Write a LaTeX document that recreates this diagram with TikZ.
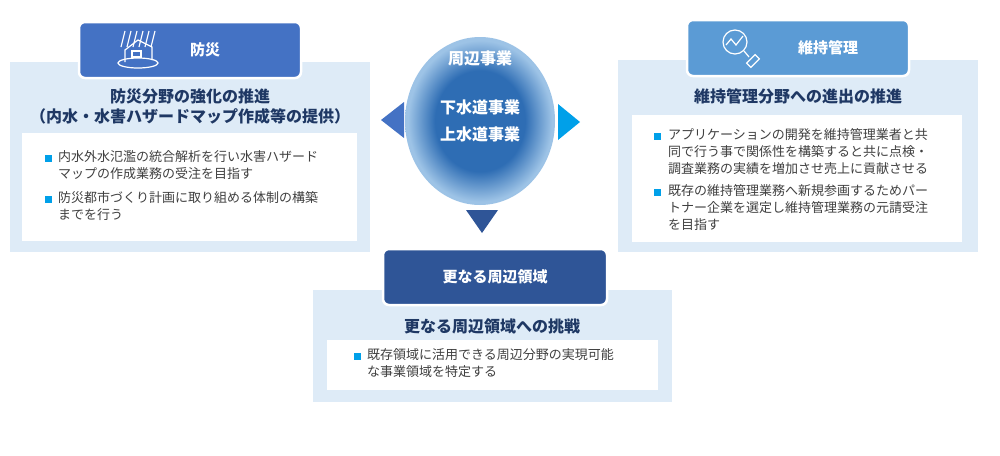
\documentclass[tikz,border=0pt]{standalone}
\usepackage{fontspec}
\setmainfont{Noto Sans CJK JP}
\usetikzlibrary{positioning}
\definecolor{panelbg}{HTML}{DEEBF7}
\definecolor{tabA}{HTML}{4472C4}
\definecolor{tabB}{HTML}{5B9BD5}
\definecolor{tabC}{HTML}{2F5597}
\definecolor{headtxt}{HTML}{1F3864}
\definecolor{bodytxt}{HTML}{404040}
\definecolor{bullet}{HTML}{00A0E9}
\definecolor{hubdk}{HTML}{2E6DB4}
\definecolor{hublt}{HTML}{9DC3E6}
\pgfdeclareradialshading{hub}{\pgfpoint{0bp}{0bp}}{color(0bp)=(hubdk); color(15bp)=(hubdk); color(24bp)=(hublt); color(50bp)=(hublt)}
\tikzset{
  panel/.style={fill=panelbg, draw=none},
  textbox/.style={fill=white, draw=none},
  tab/.style={rounded corners=6pt, draw=white, line width=2.5pt, text=white, font=\fontsize{15}{18}\selectfont\bfseries},
  heading/.style={text=headtxt, font=\fontsize{16}{20}\selectfont\bfseries, align=center},
  item/.style={anchor=north west, text=bodytxt, align=left, inner sep=0pt, font=\fontsize{13}{17}\selectfont},
  sq/.style={fill=bullet, minimum size=7pt, inner sep=0pt},
  hubtxt/.style={text=white, font=\fontsize{16}{27}\selectfont\bfseries, align=center}
}
\begin{document}
\begin{tikzpicture}[x=1pt,y=-1pt]
	\useasboundingbox (0,0) rectangle (1000,455);
	% left panel
	\fill[panel] (10,62) rectangle (370,252);
	\fill[textbox] (22,133) rectangle (357,241);
	\node (tabL) [tab, fill=tabA, minimum width=222pt, minimum height=56pt] at (190,50) {\hspace*{30pt}防災};
	\node (headL) [heading] at (190,107) {防災分野の強化の推進\\（内水・水害ハザードマップ作成等の提供）};
	\node (sqL1) [sq] at (48,158) {};
	\node (itemL1) [item] at (58,150) {内水外水氾濫の統合解析を行い水害ハザード\\マップの作成業務の受注を目指す};
	\node (sqL2) [sq] at (48,199) {};
	\node (itemL2) [item] at (58,191) {防災都市づくり計画に取り組める体制の構築\\までを行う};
	% house icon
	\begin{scope}[draw=white, line width=1.2pt]
		\foreach \x in {125,131,137,143,149,155} \draw (\x,31) -- (\x-4,47);
		\draw (125,62) -- (125,50) -- (138,40) -- (152,47) -- (152,60);
		\draw (132,51) rectangle (141,57);
		\draw (138,63) ellipse (20 and 5);
	\end{scope}
	% right panel
	\fill[panel] (618,60) rectangle (978,252);
	\fill[textbox] (632,115) rectangle (962,242);
	\node (tabR) [tab, fill=tabB, minimum width=222pt, minimum height=56pt] at (798,48) {\hspace*{60pt}維持管理};
	\node (headR) [heading] at (798,96) {維持管理分野への進出の推進};
	\node (sqR1) [sq] at (657,136) {};
	\node (itemR1) [item] at (668,128) {アプリケーションの開発を維持管理業者と共\\同で行う事で関係性を構築すると共に点検・\\調査業務の実績を増加させ売上に貢献させる};
	\node (sqR2) [sq] at (657,192) {};
	\node (itemR2) [item] at (668,184) {既存の維持管理業務へ新規参画するためパー\\トナー企業を選定し維持管理業務の元請受注\\を目指す};
	% magnifier icon
	\begin{scope}[draw=white, line width=1.2pt]
		\draw (735,42) circle (12);
		\draw (726,45) -- (731,39) -- (736,45) -- (743,36);
		\draw (744,51) -- (749,57);
		\draw[rotate around={45:(753,61)}] (747,58) rectangle (759,64);
	\end{scope}
	% bottom panel
	\fill[panel] (313,290) rectangle (672,402);
	\fill[textbox] (327,340) rectangle (658,390);
	\node (tabB) [tab, fill=tabC, minimum width=224pt, minimum height=56pt] at (495,277) {更なる周辺領域};
	\node (headB) [heading] at (492,326) {更なる周辺領域への挑戦};
	\node (sqB1) [sq] at (357,356) {};
	\node (itemB1) [item] at (367,348) {既存領域に活用できる周辺分野の実現可能\\な事業領域を特定する};
	% hub
	\shade[shading=hub] (480,121) ellipse (75 and 84);
	\node (hubTop) [hubtxt] at (480,58) {周辺事業};
	\node (hubMid) [hubtxt] at (480,121) {下水道事業\\上水道事業};
	% arrows
	\fill[tabA] (381,120) -- (404,102) -- (404,138) -- cycle;
	\fill[bullet] (580,122) -- (558,104) -- (558,140) -- cycle;
	\fill[tabC] (482,233) -- (466,210) -- (498,210) -- cycle;
\end{tikzpicture}
\end{document}
